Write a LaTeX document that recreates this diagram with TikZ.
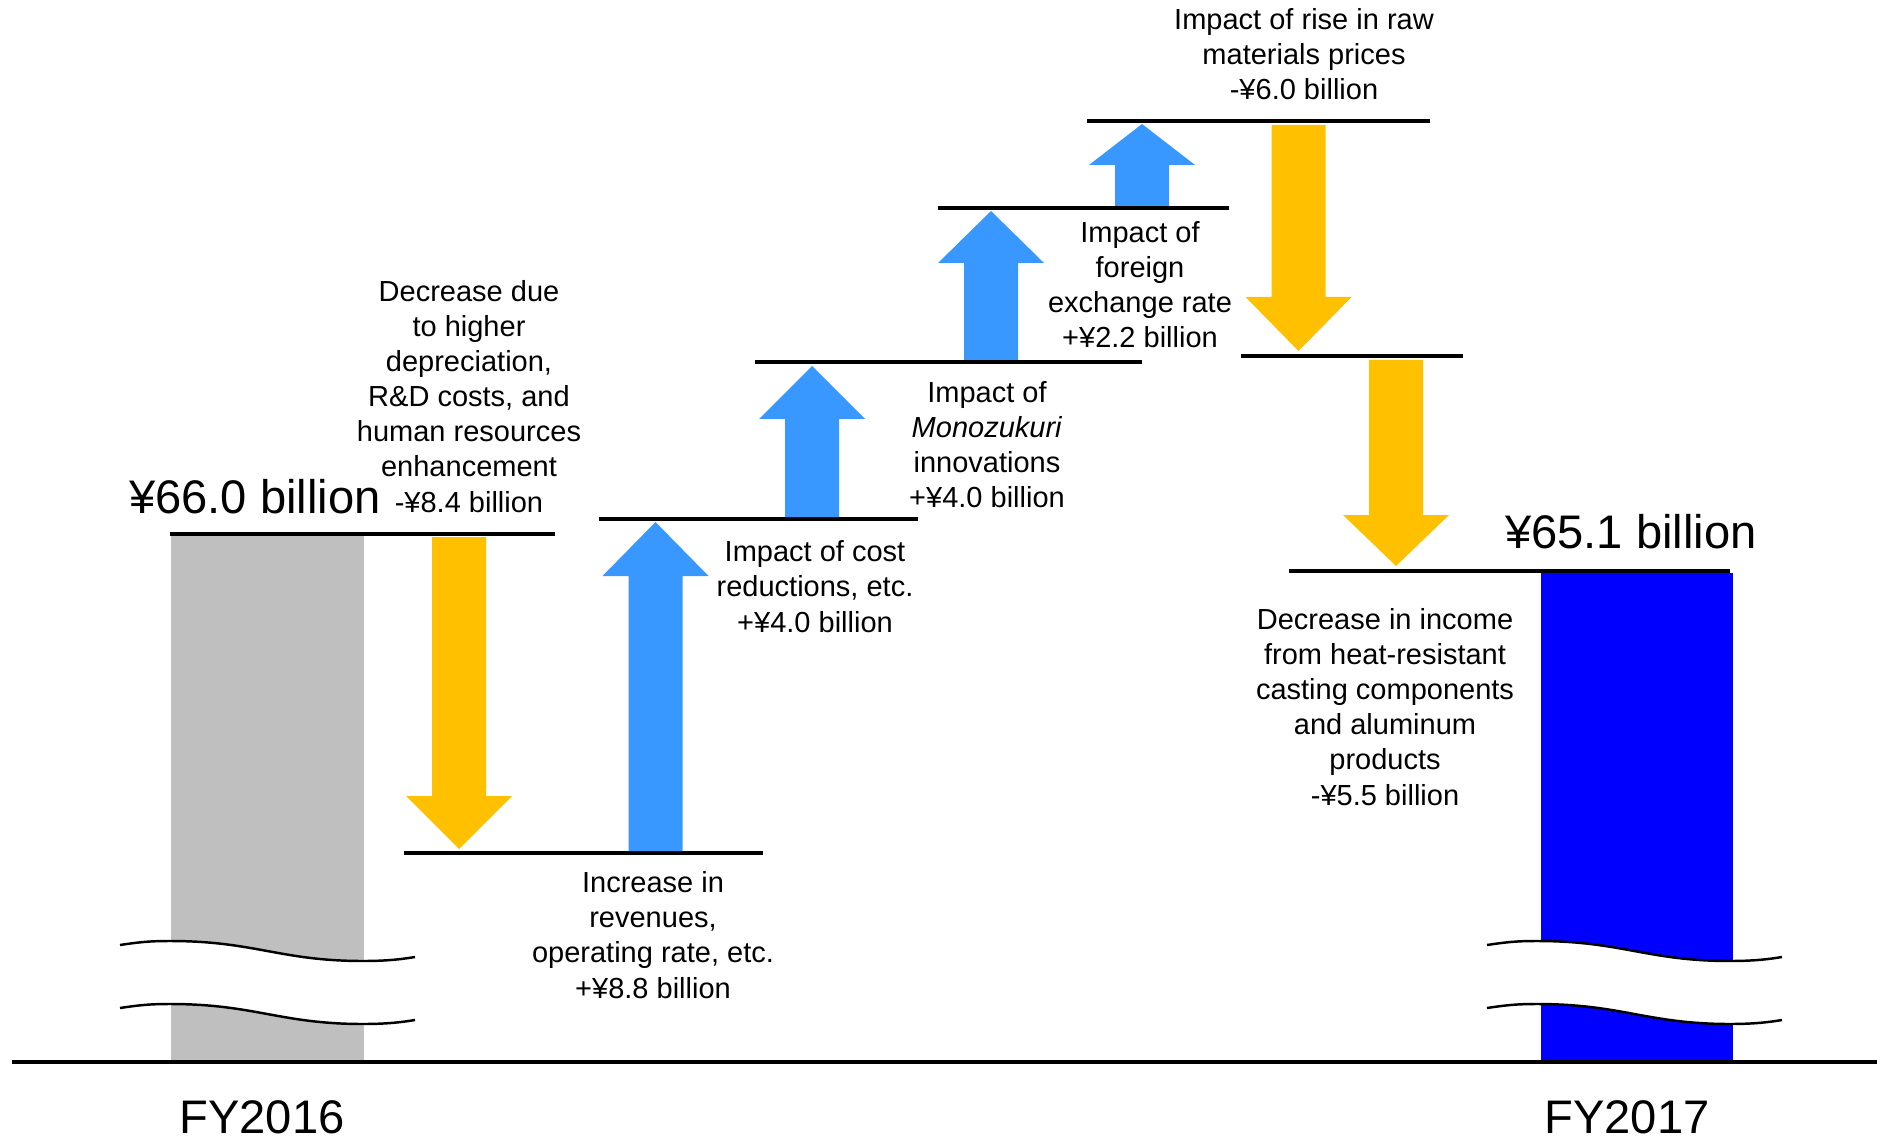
\documentclass[tikz,border=0pt]{standalone}
\usepackage{fontspec}
\setmainfont{Liberation Sans}
\definecolor{upblue}{RGB}{56,152,255}
\definecolor{downyel}{RGB}{255,192,0}
\definecolor{barblue}{RGB}{0,0,255}
\definecolor{bargray}{RGB}{191,191,191}
\newcommand\wfarrow[5]{%
  \fill[#1] ({#2-27},#3) -- ({#2-27},#4) -- ({#2-53},#4) -- (#2,#5) -- ({#2+53},#4) -- ({#2+27},#4) -- ({#2+27},#3) -- cycle;}
\tikzset{
  lvl/.style={line width=0.04cm},
  lbl/.style={font=\fontsize{8.25}{9.96}\selectfont, align=center, inner sep=0pt, anchor=base},
  biglbl/.style={font=\fontsize{13.4}{16}\selectfont, inner sep=0pt, anchor=base},
  brk/.pic={
    \fill[white] (0,0) .. controls (20,-3) and (30,-4) .. (50,-4) .. controls (135,-4) and (160,16) .. (243,16) .. controls (265,16) and (280,14.5) .. (295,12)
      -- (295,75) .. controls (280,77.5) and (265,79) .. (243,79) .. controls (160,79) and (135,59) .. (50,59) .. controls (30,59) and (20,60) .. (0,63) -- cycle;
    \draw[line width=0.7pt] (0,0) .. controls (20,-3) and (30,-4) .. (50,-4) .. controls (135,-4) and (160,16) .. (243,16) .. controls (265,16) and (280,14.5) .. (295,12);
    \draw[line width=0.7pt] (0,63) .. controls (20,60) and (30,59) .. (50,59) .. controls (135,59) and (160,79) .. (243,79) .. controls (265,79) and (280,77.5) .. (295,75);
  }
}
\begin{document}
\begin{tikzpicture}[x=0.01cm,y=-0.01cm]
\useasboundingbox (0,0) rectangle (1877,1137);
% bars
\fill[bargray] (171,534) rectangle (364,1062);
\fill[barblue] (1541,573) rectangle (1733,1062);
% break marks
\pic at (120,945) {brk};
\pic at (1487,945) {brk};
% ground
\draw[lvl] (12,1062) -- (1877,1062);
% level lines
\draw[lvl] (170,534) -- (555,534);
\draw[lvl] (404,853) -- (763,853);
\draw[lvl] (599,519) -- (918,519);
\draw[lvl] (755,362) -- (1142,362);
\draw[lvl] (938,208) -- (1229,208);
\draw[lvl] (1087,121) -- (1430,121);
\draw[lvl] (1241,356) -- (1463,356);
\draw[lvl] (1289,571) -- (1730,571);
% arrows
\wfarrow{downyel}{459}{537}{796}{849}
\wfarrow{upblue}{655.5}{851}{576}{522}
\wfarrow{upblue}{812}{517}{419}{366}
\wfarrow{upblue}{991}{360}{263}{211}
\wfarrow{upblue}{1142}{206}{165}{124}
\wfarrow{downyel}{1298.5}{125}{297}{351}
\wfarrow{downyel}{1396}{360}{515}{566}
% labels
\node[biglbl] (t66) at (255,513) {¥66.0 billion};
\node[biglbl] (t651) at (1631,548) {¥65.1 billion};
\node[biglbl] (fy16) at (262,1133) {FY2016};
\node[biglbl] (fy17) at (1627,1133) {FY2017};
\node[lbl] (tdec) at (469,512) {Decrease due\\to higher\\depreciation,\\R\&D costs, and\\human resources\\enhancement\\-¥8.4 billion};
\node[lbl] (tinc) at (653,998) {Increase in\\revenues,\\operating rate, etc.\\+¥8.8 billion};
\node[lbl] (tcost) at (815,632) {Impact of cost\\reductions, etc.\\+¥4.0 billion};
\node[lbl] (tmono) at (987,508) {Impact of\\\textit{Monozukuri}\\innovations\\+¥4.0 billion};
\node[lbl] (tfx) at (1140,348) {Impact of\\foreign\\exchange rate\\+¥2.2 billion};
\node[lbl] (traw) at (1304,100) {Impact of rise in raw\\materials prices\\-¥6.0 billion};
\node[lbl] (tdec2) at (1385,805) {Decrease in income\\from heat-resistant\\casting components\\and aluminum\\products\\-¥5.5 billion};
\end{tikzpicture}
\end{document}
